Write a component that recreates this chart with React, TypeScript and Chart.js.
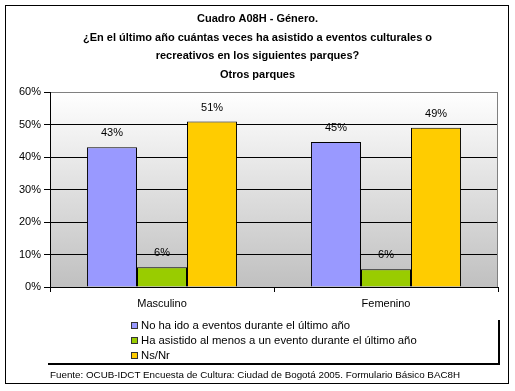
import React, { useEffect, useRef } from "react";
import { Chart, registerables } from "chart.js";

Chart.register(...registerables);

const FONT = "'Liberation Sans', Arial, sans-serif";

const titleLines = [
  "Cuadro A08H - Género.",
  "¿En el último año cuántas veces ha asistido a eventos culturales o",
  "recreativos en los siguientes parques?",
  "Otros parques",
];
const categories = ["Masculino", "Femenino"];
const seriesNames = [
  "No ha ido a eventos durante el último año",
  "Ha asistido al menos a un evento durante el último año",
  "Ns/Nr",
];
const noHaIdo = [43.0, 44.6];
const haAsistido = [6.1, 5.5];
const nsNr = [50.9, 49.0];
const seriesColors = ["#9999FF", "#99CC00", "#FFCC00"];
const yTicks = [0, 10, 20, 30, 40, 50, 60];
const footerText =
  "Fuente: OCUB-IDCT Encuesta de Cultura: Ciudad de Bogotá 2005. Formulario Básico BAC8H";

const decorPlugin = {
  id: "decor",
  beforeDraw(chart: any) {
    const { ctx, chartArea: a } = chart;
    ctx.save();
    ctx.fillStyle = "#ffffff";
    ctx.fillRect(0, 0, chart.width, chart.height);
    const g = ctx.createLinearGradient(0, a.top, 0, a.bottom);
    g.addColorStop(0, "#ffffff");
    g.addColorStop(1, "#c0c0c0");
    ctx.fillStyle = g;
    ctx.fillRect(a.left, a.top, a.right - a.left, a.bottom - a.top);
    ctx.restore();
  },
  beforeDatasetsDraw(chart: any) {
    const { ctx, chartArea: a } = chart;
    ctx.save();
    ctx.strokeStyle = "#808080";
    ctx.lineWidth = 1;
    ctx.beginPath();
    ctx.moveTo(Math.round(a.right) - 0.5, a.top);
    ctx.lineTo(Math.round(a.right) - 0.5, a.bottom);
    ctx.stroke();
    ctx.restore();
  },
  afterDatasetsDraw(chart: any) {
    const { ctx } = chart;
    ctx.save();
    ctx.font = `11px ${FONT}`;
    ctx.fillStyle = "#000";
    ctx.textAlign = "center";
    ctx.textBaseline = "middle";
    chart.data.datasets.forEach((ds: any, i: number) => {
      const meta = chart.getDatasetMeta(i);
      meta.data.forEach((bar: any, j: number) => {
        const v = ds.data[j];
        ctx.fillText(Math.round(v) + "%", bar.x, bar.y - 14);
      });
    });
    ctx.restore();
  },
  afterDraw(chart: any) {
    const { ctx } = chart;
    ctx.save();
    // outer frame
    ctx.strokeStyle = "#000";
    ctx.lineWidth = 1;
    ctx.strokeRect(5.5, 5.5, 503, 378);
    // legend
    ctx.font = `11.3px ${FONT}`;
    ctx.textAlign = "left";
    ctx.textBaseline = "middle";
    const ys = [326, 341, 355.5];
    chart.data.datasets.forEach((ds: any, i: number) => {
      const y = ys[i];
      ctx.fillStyle = ds.backgroundColor;
      ctx.fillRect(131, Math.round(y) - 4, 7, 7);
      ctx.strokeStyle = "#333";
      ctx.strokeRect(131.5, Math.round(y) - 3.5, 6, 6);
      ctx.fillStyle = "#000";
      ctx.fillText(ds.label, 141, y);
    });
    // legend shadow
    ctx.fillStyle = "#000";
    ctx.fillRect(498, 320, 2, 45);
    ctx.fillRect(48, 363, 452, 2);
    // footer
    ctx.font = `9.8px ${FONT}`;
    ctx.textAlign = "left";
    ctx.fillText(footerText, 50, 375);
    ctx.restore();
  },
};

export default function App() {
  const ref = useRef<HTMLCanvasElement | null>(null);
  useEffect(() => {
    const canvas = ref.current;
    if (!canvas) return;
    const datasets = [noHaIdo, haAsistido, nsNr].map((d, i) => ({
      label: seriesNames[i],
      data: d,
      backgroundColor: seriesColors[i],
      borderColor: "#000000",
      borderWidth: 1,
      categoryPercentage: 0.67,
      barPercentage: 1.0,
    }));
    const chart = new Chart(canvas, {
      type: "bar",
      data: { labels: categories, datasets },
      options: {
        responsive: false,
        animation: false,
        devicePixelRatio: 1,
        layout: { padding: { top: 0, left: 17, right: 17, bottom: 82 } },
        plugins: {
          legend: { display: false },
          tooltip: { enabled: false },
          title: {
            display: true,
            text: titleLines,
            color: "#000",
            font: { family: FONT, size: 11, weight: "bold", lineHeight: "18.5px" },
            padding: { top: 10, bottom: 8 },
          },
        },
        scales: {
          x: {
            grid: {
              offset: true,
              drawOnChartArea: false,
              tickLength: 5,
              tickColor: "#000",
              color: "#000",
            },
            border: { color: "#000", width: 1 },
            ticks: { color: "#000", font: { family: FONT, size: 11 }, padding: 5 },
            afterFit: (s: any) => {
              s.height = 22;
            },
          },
          y: {
            min: yTicks[0],
            max: yTicks[yTicks.length - 1],
            afterBuildTicks: (s: any) => {
              s.ticks = yTicks.map((v) => ({ value: v }));
            },
            grid: {
              color: (c: any) => (c.tick && c.tick.value === 60 ? "#808080" : "#000"),
              tickColor: "#000",
              tickLength: 6,
            },
            border: { color: "#000", width: 1 },
            ticks: {
              color: "#000",
              font: { family: FONT, size: 11 },
              padding: 3,
              callback: (v: any) => v + "%",
            },
            afterFit: (s: any) => {
              s.width = 33;
            },
          },
        },
      },
      plugins: [decorPlugin],
    });
    return () => chart.destroy();
  }, []);
  return (
    <div style={{ position: "absolute", left: 0, top: 0, width: 515, height: 391 }}>
      <canvas ref={ref} width={515} height={391} style={{ width: 515, height: 391, display: "block" }} />
    </div>
  );
}
